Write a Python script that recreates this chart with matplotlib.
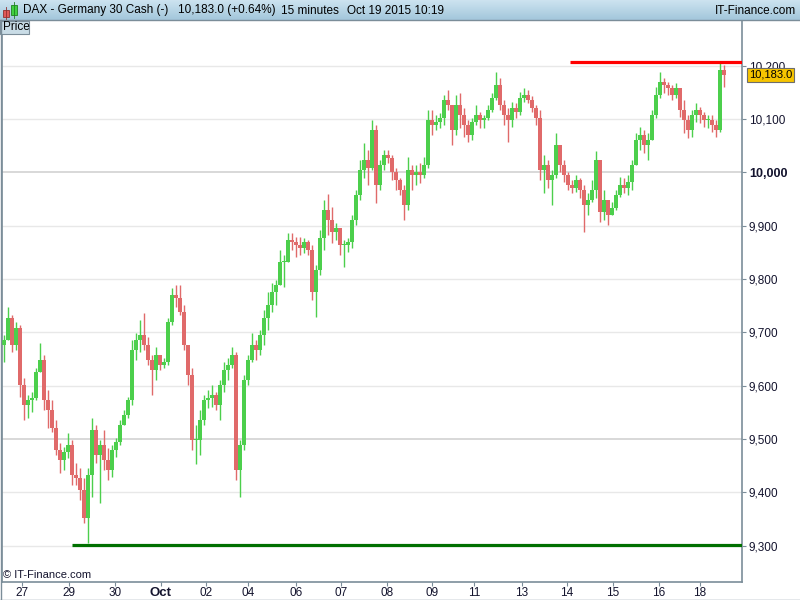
import numpy as np
import matplotlib
matplotlib.use("Agg")
import matplotlib.pyplot as plt
from matplotlib.patches import Rectangle

plt.rcParams['font.family'] = ['Liberation Sans', 'DejaVu Sans']

# DAX 15-minute candles (open = previous close)
first_open = 9676
highs = [9695, 9748, 9733, 9720, 9714, 9615, 9583, 9588, 9633, 9680,
         9658, 9592, 9573, 9536, 9493, 9485, 9511, 9498, 9455, 9446,
         9427, 9446, 9540, 9526, 9498, 9517, 9483, 9489, 9502, 9536,
         9555, 9579, 9686, 9699, 9723, 9736, 9691, 9658, 9673, 9654,
         9652, 9727, 9783, 9789, 9789, 9751, 9676, 9633, 9526, 9555,
         9583, 9592, 9601, 9588, 9611, 9645, 9652, 9673, 9663, 9498,
         9620, 9658, 9699, 9686, 9705, 9742, 9776, 9793, 9798, 9855,
         9845, 9886, 9886, 9879, 9879, 9877, 9873, 9864, 9826, 9892,
         9948, 9960, 9935, 9905, 9896, 9873, 9877, 9920, 9967, 10023,
         10055, 10042, 10098, 10089, 10023, 10042, 10042, 10033, 10008, 9990,
         9976, 10029, 10014, 10014, 10018, 10029, 10117, 10117, 10108, 10111,
         10145, 10155, 10126, 10145, 10149, 10121, 10098, 10102, 10126, 10113,
         10108, 10126, 10149, 10188, 10177, 10136, 10121, 10132, 10130, 10151,
         10158, 10155, 10143, 10126, 10117, 10033, 10023, 10005, 10074, 10051,
         10023, 10001, 9986, 9995, 9990, 9976, 9961, 9986, 10040, 10023,
         9967, 9948, 9945, 9967, 9991, 9990, 9995, 10023, 10074, 10085,
         10080, 10074, 10117, 10160, 10188, 10177, 10170, 10164, 10168, 10158,
         10136, 10108, 10117, 10130, 10123, 10113, 10108, 10108, 10098, 10205,
         10201]
lows = [9645, 9686, 9663, 9667, 9579, 9536, 9540, 9551, 9573, 9626,
        9555, 9521, 9513, 9470, 9436, 9442, 9465, 9414, 9414, 9386,
        9343, 9305, 9391, 9455, 9380, 9442, 9423, 9429, 9466, 9489,
        9526, 9540, 9564, 9648, 9663, 9667, 9639, 9583, 9611, 9630,
        9633, 9639, 9714, 9748, 9733, 9667, 9601, 9480, 9453, 9470,
        9526, 9558, 9560, 9555, 9536, 9588, 9611, 9633, 9423, 9391,
        9480, 9601, 9645, 9648, 9658, 9676, 9705, 9738, 9751, 9789,
        9785, 9832, 9855, 9841, 9845, 9849, 9845, 9761, 9729, 9808,
        9855, 9883, 9868, 9873, 9845, 9823, 9851, 9858, 9901, 9948,
        9990, 9976, 10005, 9943, 9967, 10005, 10018, 9986, 9967, 9958,
        9911, 9930, 9967, 9976, 9980, 9990, 10008, 10070, 10080, 10083,
        10089, 10117, 10051, 10070, 10083, 10066, 10057, 10061, 10089, 10083,
        10083, 10098, 10113, 10136, 10117, 10089, 10057, 10085, 10102, 10108,
        10132, 10130, 10113, 10089, 9986, 9961, 9971, 9939, 9990, 10001,
        9982, 9967, 9961, 9963, 9952, 9888, 9920, 9945, 9952, 9907,
        9911, 9901, 9926, 9930, 9954, 9961, 9958, 9967, 10014, 10042,
        10036, 10023, 10061, 10102, 10140, 10149, 10145, 10136, 10140, 10104,
        10074, 10065, 10066, 10095, 10093, 10085, 10083, 10076, 10066, 10076,
        10160]
closes = [9686, 9727, 9676, 9708, 9601, 9564, 9573, 9577, 9626, 9648,
          9573, 9555, 9521, 9480, 9461, 9476, 9489, 9433, 9427, 9405,
          9352, 9433, 9517, 9470, 9489, 9461, 9442, 9480, 9495, 9526,
          9545, 9573, 9667, 9686, 9695, 9676, 9648, 9630, 9658, 9639,
          9645, 9720, 9770, 9765, 9738, 9676, 9620, 9498, 9498, 9536,
          9573, 9577, 9583, 9564, 9601, 9630, 9639, 9658, 9442, 9489,
          9611, 9648, 9676, 9667, 9695, 9727, 9751, 9776, 9789, 9832,
          9832, 9873, 9870, 9864, 9858, 9870, 9855, 9776, 9817, 9877,
          9930, 9911, 9888, 9896, 9864, 9864, 9870, 9911, 9958, 10005,
          10023, 10008, 10080, 9976, 10014, 10033, 10027, 10001, 9986, 9967,
          9939, 10005, 9995, 10001, 9995, 10014, 10098, 10089, 10095, 10102,
          10136, 10126, 10080, 10126, 10108, 10089, 10070, 10095, 10108, 10098,
          10102, 10117, 10140, 10164, 10126, 10108, 10098, 10121, 10113, 10140,
          10145, 10136, 10121, 10102, 10005, 10014, 9986, 9995, 10051, 10014,
          9995, 9976, 9971, 9986, 9967, 9939, 9948, 9967, 10023, 9926,
          9948, 9920, 9933, 9958, 9976, 9971, 9982, 10014, 10061, 10070,
          10051, 10061, 10108, 10145, 10170, 10164, 10158, 10145, 10158, 10117,
          10098, 10080, 10108, 10117, 10108, 10098, 10098, 10089, 10080, 10192,
          10183]

# session labels on the time axis (position = candle index)
day_labels = ['27', '29', '30', 'Oct', '02', '04', '06', '07', '08',
              '09', '11', '13', '14', '15', '16', '18']
day_pos = [4.5, 16.25, 27.75, 39.25, 50.5, 61, 73, 84.25, 95.75,
           107, 117.5, 129.5, 140.75, 152.25, 163.75, 174]
price_ticks = [9300, 9400, 9500, 9600, 9700, 9800, 9900, 10000, 10100, 10200]

resistance = 10208
resistance_from = 141.5
support = 9301
support_from = 17
last_price = 10183.0
change_pct = 0.64

GREEN = '#4ccf4c'
RED = '#e06a6a'
FRAME = '#7b8d99'
TXT = '#14142e'

opens = np.array([first_open] + closes[:-1], dtype=float)
closes_a = np.array(closes, dtype=float)
highs_a = np.maximum.reduce([np.array(highs, float), opens, closes_a])
lows_a = np.minimum.reduce([np.array(lows, float), opens, closes_a])
x = np.arange(len(closes_a))
up = closes_a >= opens
cols = np.where(up, GREEN, RED)

fig = plt.figure(figsize=(8, 6), dpi=100)
ax = fig.add_axes([2 / 800, 18 / 600, 740 / 800, 562 / 600])

# grid
for p in price_ticks:
    major = p % 500 == 0
    ax.axhline(p, color='#d6d6d6' if major else '#e8e8e8',
               lw=1.3 if major else 1.0, zorder=0)

# candles
ax.vlines(x, lows_a, highs_a, colors=cols, lw=1.0, zorder=2)
body = np.maximum(np.abs(closes_a - opens), 2.0)
ax.bar(x, body, bottom=np.minimum(opens, closes_a), width=0.78,
       color=cols, edgecolor='none', zorder=3)

# support / resistance
ax.hlines(resistance, resistance_from, len(x) + 4, colors='#ff0000', lw=2.3, zorder=4)
ax.hlines(support, support_from, len(x) + 4, colors='#007000', lw=2.3, zorder=4)

ax.set_xlim(-0.5, 184.5)
ax.set_ylim(9232, 10286)

ax.spines['top'].set_visible(False)
for s in ['left', 'right', 'bottom']:
    ax.spines[s].set_color(FRAME)
    ax.spines[s].set_linewidth(1.2)

ax.yaxis.tick_right()
ax.set_yticks(price_ticks)
ax.set_yticklabels([f'{p:,}' for p in price_ticks])
ax.tick_params(axis='y', length=3, width=0.8, color=FRAME, pad=2,
               labelsize=8.5, labelcolor=TXT)
for lab, p in zip(ax.get_yticklabels(), price_ticks):
    if p == 10000:
        lab.set_fontweight('bold')
        lab.set_fontsize(9)

ax.set_xticks(day_pos)
ax.set_xticklabels(day_labels)
ax.tick_params(axis='x', length=3, width=0.8, color=FRAME, pad=0.8,
               labelsize=8.5, labelcolor=TXT)
for lab in ax.get_xticklabels():
    if lab.get_text() == 'Oct':
        lab.set_fontweight('bold')
        lab.set_fontsize(9.5)

# last price tag
ax.annotate(f'{last_price:,.1f}', xy=(1.0, last_price),
            xycoords=('axes fraction', 'data'), xytext=(5, 0),
            textcoords='offset points', va='center', ha='left',
            fontsize=8, color='black', annotation_clip=False,
            bbox=dict(boxstyle='square,pad=0.15', fc='#f6c400', ec='#6d6d6d', lw=0.8))

# decorations drawn in pixel space
deco = fig.add_axes([0, 0, 1, 1], zorder=5)
deco.patch.set_visible(False)
grad = np.linspace(0, 1, 20)[:, None]
top_c = np.array([0.80, 0.89, 0.94])
bot_c = np.array([0.64, 0.78, 0.86])
img = top_c[None, None, :] * (1 - grad[:, :, None]) + bot_c[None, None, :] * grad[:, :, None]
deco.imshow(np.repeat(img, 2, axis=1), extent=(0, 800, 20, 0), aspect='auto')
deco.set_xlim(0, 800)
deco.set_ylim(600, 0)
deco.axis('off')
deco.plot([0, 800], [20, 20], color=FRAME, lw=1)
deco.plot([0, 800], [599.5, 599.5], color=FRAME, lw=1)
deco.plot([0.5, 0.5], [20, 600], color=FRAME, lw=1)

# header icon
deco.add_patch(Rectangle((3, 10), 6, 7, fc='#e05858', ec='#903030', lw=0.6))
deco.plot([6, 6], [7, 19], color='#903030', lw=0.6)
deco.add_patch(Rectangle((11, 5), 6, 10, fc='#40d040', ec='#208020', lw=0.6))
deco.plot([14, 14], [2, 18], color='#208020', lw=0.6)

hdr = dict(fontsize=8.5, color='black', va='center')
deco.text(23, 10.5, 'DAX - Germany 30 Cash (-)', **hdr)
deco.text(178, 10.5, f'{last_price:,.1f} (+{change_pct:.2f}%)', **hdr)
deco.text(281, 10.5, '15 minutes', **hdr)
deco.text(347, 10.5, 'Oct 19 2015 10:19', **hdr)
deco.text(796, 10.5, 'IT-Finance.com', ha='right', **hdr)

deco.add_patch(Rectangle((0, 20.5), 29, 13.5, fc='#c9dce6', ec=FRAME, lw=0.8))
deco.text(3, 27.5, 'Price', fontsize=8.5, color='black', va='center')

deco.text(3, 575, '\u00a9 IT-Finance.com', fontsize=8, color=TXT, va='center')

fig.savefig('out.png', dpi=100)
